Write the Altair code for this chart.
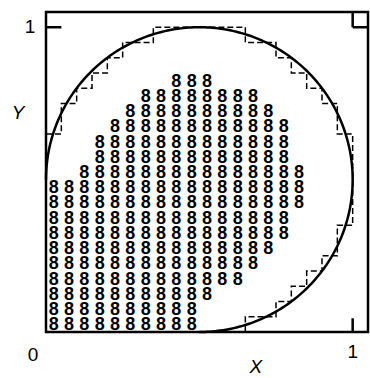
import altair as alt
import numpy as np
import pandas as pd

# Lattice of "8" markers: one column per x, filled from bottom to top (inclusive)
col_x = [0.025, 0.075, 0.125, 0.175, 0.225, 0.275, 0.325, 0.375, 0.425,
         0.475, 0.525, 0.575, 0.625, 0.675, 0.725, 0.775, 0.825]
col_bottom = [0.025, 0.025, 0.025, 0.025, 0.025, 0.025, 0.025, 0.025, 0.025,
              0.025, 0.125, 0.175, 0.175, 0.225, 0.275, 0.325, 0.425]
col_top = [0.475, 0.475, 0.525, 0.625, 0.675, 0.725, 0.775, 0.775, 0.825,
           0.825, 0.825, 0.775, 0.775, 0.775, 0.725, 0.675, 0.525]
lattice_step = 0.05

# Dashed staircase approximation of the circle
stair_x = [0.0, 0.05, 0.05, 0.10, 0.10, 0.15, 0.15, 0.20, 0.20, 0.25, 0.25, 0.35, 0.35,
           0.65, 0.65, 0.75, 0.75, 0.80, 0.80, 0.85, 0.85, 0.90, 0.90, 0.95, 0.95, 1.0,
           1.0, 0.95, 0.95, 0.90, 0.90, 0.85, 0.85, 0.80, 0.80, 0.75, 0.75, 0.65, 0.65]
stair_y = [0.65, 0.65, 0.75, 0.75, 0.80, 0.80, 0.85, 0.85, 0.90, 0.90, 0.95, 0.95, 1.0,
           1.0, 0.95, 0.95, 0.90, 0.90, 0.85, 0.85, 0.80, 0.80, 0.75, 0.75, 0.65, 0.65,
           0.35, 0.35, 0.25, 0.25, 0.20, 0.20, 0.15, 0.15, 0.10, 0.10, 0.05, 0.05, 0.0]

# Circle: centre and radius; drawn from the left point over the top round to the bottom
circle_cx, circle_cy, circle_r = 0.5, 0.5, 0.5
arc_start_deg, arc_end_deg = 180, -90

# Inward ticks at 1 on all four sides
tick_x = [0.0, 1.0, 1.0, 1.0]
tick_x2 = [0.05, 1.0, 1.0, 1.05]
tick_y = [1.0, 0.0, 1.0, 1.0]
tick_y2 = [1.0, 0.045, 1.05, 1.0]

# Axis texts
label_text = ["1", "0", "1", "Y", "X"]
label_x = [0.0, 0.0, 1.0, 0.0, 0.684]
label_y = [1.0, 0.0, 0.0, 0.72, 0.0]
label_dx = [-16, -13, 0, -28, 0]
label_dy = [0, 23, 20, 0, 35]
label_style = ["normal", "normal", "normal", "italic", "italic"]

domain = [0, 1.05]
xs = alt.Scale(domain=domain, nice=False, zero=False)
ys = alt.Scale(domain=domain, nice=False, zero=False)

# Build tables
rows = []
for cx, lo, hi in zip(col_x, col_bottom, col_top):
    n = int(round((hi - lo) / lattice_step)) + 1
    for i in range(n):
        rows.append({"x": cx, "y": round(lo + i * lattice_step, 4)})
eights = pd.DataFrame(rows)

theta = np.radians(np.linspace(arc_start_deg, arc_end_deg, 271))
circle = pd.DataFrame({
    "x": circle_cx + circle_r * np.cos(theta),
    "y": circle_cy + circle_r * np.sin(theta),
    "o": np.arange(len(theta)),
})
stairs = pd.DataFrame({"x": stair_x, "y": stair_y, "o": range(len(stair_x))})
ticks = pd.DataFrame({"x": tick_x, "x2": tick_x2, "y": tick_y, "y2": tick_y2})

font = "Liberation Sans"

eight_layer = alt.Chart(eights).mark_text(
    text="8", font=font, fontWeight="bold", fontSize=18, color="black",
    align="center", baseline="middle", dy=1
).encode(x=alt.X("x:Q", scale=xs, axis=None), y=alt.Y("y:Q", scale=ys, axis=None))

circle_layer = alt.Chart(circle).mark_line(color="black", strokeWidth=2.5).encode(
    x=alt.X("x:Q", scale=xs, axis=None), y=alt.Y("y:Q", scale=ys, axis=None),
    order="o:Q")

stair_layer = alt.Chart(stairs).mark_line(
    color="black", strokeWidth=1.5, strokeDash=[6, 3]
).encode(x=alt.X("x:Q", scale=xs, axis=None), y=alt.Y("y:Q", scale=ys, axis=None),
         order="o:Q")

tick_layer = alt.Chart(ticks).mark_rule(color="black", strokeWidth=2.5).encode(
    x=alt.X("x:Q", scale=xs, axis=None), x2="x2:Q",
    y=alt.Y("y:Q", scale=ys, axis=None), y2="y2:Q")

label_layers = []
for t, lx, ly, ddx, ddy, st in zip(label_text, label_x, label_y, label_dx, label_dy, label_style):
    df = pd.DataFrame({"x": [lx], "y": [ly], "t": [t]})
    label_layers.append(
        alt.Chart(df).mark_text(
            font=font, fontSize=19, fontStyle=st, color="black",
            align="center", baseline="middle", dx=ddx, dy=ddy
        ).encode(x=alt.X("x:Q", scale=xs, axis=None),
                 y=alt.Y("y:Q", scale=ys, axis=None), text="t:N")
    )

chart = alt.layer(
    eight_layer, circle_layer, stair_layer, tick_layer, *label_layers
).properties(
    width=322, height=320,
    padding={"left": 46, "top": 12, "right": 2, "bottom": 46},
    autosize=alt.AutoSizeParams(type="none"),
    background="white",
).configure_view(stroke="black", strokeWidth=2.5)

chart.save("out.html", embed_options={"renderer": "svg", "actions": False})
